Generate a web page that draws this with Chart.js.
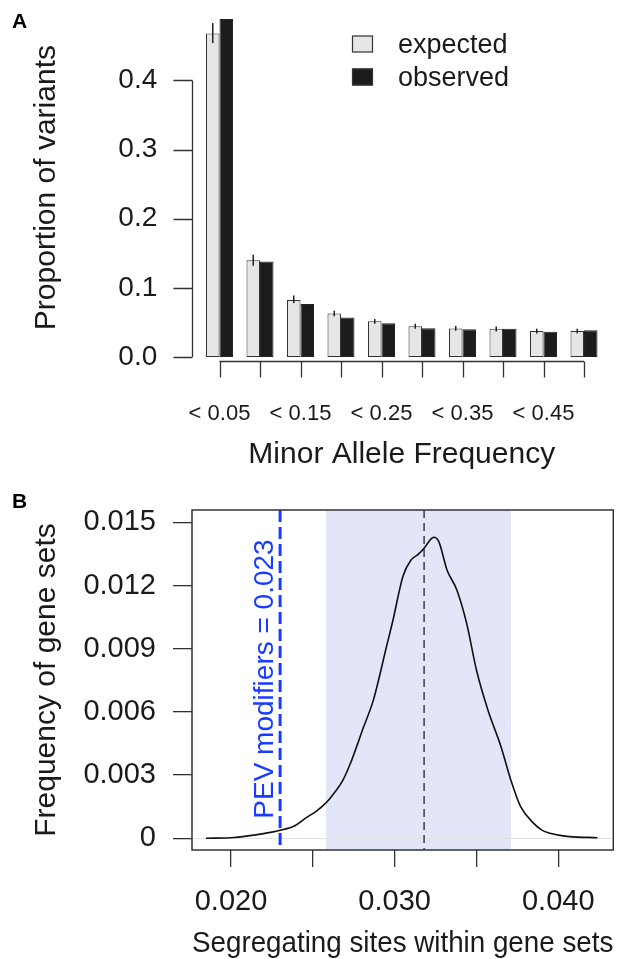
<!DOCTYPE html>
<html>
<head>
<meta charset="utf-8">
<script src="https://cdn.jsdelivr.net/npm/chart.js@4.4.1/dist/chart.umd.min.js"></script>
<style>
  html, body { margin: 0; padding: 0; background: #fff; }
  #wrap { position: relative; width: 643px; height: 959px; }
  canvas { position: absolute; left: 0; }
  #panelA { top: 0; }
  #panelB { top: 480px; }
</style>
</head>
<body>
<div id="wrap">
  <canvas id="panelA" width="643" height="480"></canvas>
  <canvas id="panelB" width="643" height="479"></canvas>
</div>
<script>
// ---- panel A : site frequency spectrum ----
const mafBins = ['< 0.05', '< 0.1', '< 0.15', '< 0.2', '< 0.25', '< 0.3', '< 0.35', '< 0.4', '< 0.45', '< 0.5']
const expected = [0.468, 0.140, 0.0825, 0.063, 0.0517, 0.0444, 0.0413, 0.0408, 0.0375, 0.0375]
const observed = [0.4887, 0.138, 0.0767, 0.057, 0.0488, 0.0415, 0.040, 0.041, 0.0366, 0.0386]
const expectedLow = [0.454, 0.132, 0.078, 0.059, 0.048, 0.041, 0.038, 0.037, 0.034, 0.034]
const expectedHigh = [0.483, 0.148, 0.089, 0.067, 0.055, 0.048, 0.045, 0.044, 0.041, 0.041]
const propTicks = [0, 0.1, 0.2, 0.3, 0.4]

// ---- panel B : segregating sites density ----
const segSites = [0.01847, 0.0202, 0.0214, 0.0224, 0.0230, 0.0239, 0.0246, 0.0252, 0.0258, 0.0264,
  0.0268, 0.0273, 0.0281, 0.0287, 0.0295, 0.0299, 0.0305, 0.0310, 0.0314, 0.0318,
  0.0322, 0.0324, 0.0327, 0.0332, 0.0338, 0.0344, 0.0350, 0.0357, 0.0365, 0.0371,
  0.0377, 0.0385, 0.0390, 0.0395, 0.0401, 0.0407, 0.0424]
const geneSetFreq = [0.0, 0.00004, 0.00015, 0.00028, 0.00038, 0.00060, 0.00098, 0.00128, 0.00168, 0.00225,
  0.00270, 0.00356, 0.00528, 0.00656, 0.00909, 0.01036, 0.01242, 0.01321, 0.01345, 0.01377,
  0.01419, 0.01429, 0.01408, 0.01274, 0.01179, 0.01021, 0.00799, 0.00609, 0.00435, 0.00277,
  0.00150, 0.00071, 0.00039, 0.00024, 0.00014, 0.00008, 0.00003]
const freqTicks = [0, 0.003, 0.006, 0.009, 0.012, 0.015]
const segTicks = [0.020, 0.025, 0.030, 0.035, 0.040]
const shadeRange = [0.02581, 0.03711]
const meanSites = 0.0318
const pevSites = 0.023
const pevLabel = 'PEV modifiers = 0.023'

const FONT = "'Liberation Sans', Arial, Helvetica, sans-serif"
const ink = '#1a1a1a'
const axisCol = '#333333'
const lightFill = '#e6e6e6'
const darkFill = '#1c1c1c'
const blue = '#1a3cff'
const lavender = 'rgb(227, 230, 249)'

Chart.defaults.font.family = FONT
Chart.defaults.color = ink

function panelLetter(ctx, letter, baseline) {
    ctx.save()
    ctx.fillStyle = '#000'
    ctx.font = 'bold 21px ' + FONT
    ctx.textBaseline = 'alphabetic'
    ctx.fillText(letter, 12, baseline)
    ctx.restore()
}

// keep label overhang from pushing the plot area around
function noPad(s) {
    s.paddingTop = 0
    s.paddingBottom = 0
    s.paddingLeft = 0
    s.paddingRight = 0
}

// R style axes, error bars and legend for panel A
const rAxesA = {
    id: 'rAxesA',
    afterDatasetsDraw(chart) {
        const ctx = chart.ctx
        const y = chart.scales.y
        const meta = chart.getDatasetMeta(0)
        ctx.save()
        ctx.strokeStyle = '#222'
        ctx.lineWidth = 1.5
        meta.data.forEach((bar, i) => {
            ctx.beginPath()
            ctx.moveTo(bar.x, y.getPixelForValue(expectedLow[i]))
            ctx.lineTo(bar.x, y.getPixelForValue(expectedHigh[i]))
            ctx.stroke()
        })
        ctx.restore()
    },
    afterDraw(chart) {
        const ctx = chart.ctx
        const x = chart.scales.x, y = chart.scales.y
        const area = chart.chartArea
        ctx.save()
        ctx.strokeStyle = axisCol
        ctx.lineWidth = 1.3
        // y axis
        const ax = Math.round(area.left - 7.25) + 0.5
        ctx.beginPath()
        ctx.moveTo(ax, y.getPixelForValue(propTicks[0]))
        ctx.lineTo(ax, y.getPixelForValue(propTicks[propTicks.length - 1]))
        propTicks.forEach(v => {
            const py = Math.round(y.getPixelForValue(v)) + 0.5
            ctx.moveTo(ax - 19, py)
            ctx.lineTo(ax, py)
        })
        ctx.stroke()
        // x axis
        const ay = Math.round(area.bottom + 3.7) + 0.5
        ctx.beginPath()
        ctx.moveTo(x.getPixelForValue(0), ay)
        ctx.lineTo(x.getPixelForValue(mafBins.length - 1), ay)
        mafBins.forEach((b, i) => {
            const px = Math.round(x.getPixelForValue(i)) + 0.5
            ctx.moveTo(px, ay)
            ctx.lineTo(px, ay + 16)
        })
        ctx.stroke()

        // legend
        const ds = chart.data.datasets
        ctx.font = '27px ' + FONT
        ctx.textBaseline = 'alphabetic'
        ds.forEach((d, i) => {
            const top = 35.5 + i * 33
            ctx.fillStyle = d.backgroundColor
            ctx.fillRect(352, top, 21, 17)
            ctx.strokeStyle = axisCol
            ctx.lineWidth = 1.2
            ctx.strokeRect(352.5, top + 0.5, 20, 16)
            ctx.fillStyle = ink
            ctx.fillText(d.label, 398, top + 17)
        })
        ctx.restore()
        panelLetter(ctx, 'A', 28)
    }
}

const chartA = new Chart(document.getElementById('panelA').getContext('2d'), {
    type: 'bar',
    data: {
        labels: mafBins,
        datasets: [
            {
                label: 'expected',
                data: expected,
                backgroundColor: lightFill,
                borderColor: axisCol,
                borderWidth: 1,
                borderSkipped: false,
                categoryPercentage: 0.6667,
                barPercentage: 1.0
            },
            {
                label: 'observed',
                data: observed,
                backgroundColor: darkFill,
                borderColor: '#222',
                borderWidth: 1,
                borderSkipped: false,
                categoryPercentage: 0.6667,
                barPercentage: 1.0
            }
        ]
    },
    options: {
        responsive: false,
        animation: false,
        devicePixelRatio: 1,
        layout: { padding: { left: 0, right: 38.75, top: 18.2, bottom: 0 } },
        scales: {
            x: {
                type: 'category',
                grid: { display: false, drawTicks: false },
                border: { display: false },
                ticks: {
                    autoSkip: false,
                    maxRotation: 0,
                    padding: 44,
                    font: { size: 22 },
                    callback: (v, i) => i % 2 === 0 ? mafBins[i] : ''
                },
                title: {
                    display: true,
                    text: 'Minor Allele Frequency',
                    font: { size: 30, lineHeight: 1 },
                    padding: { top: 0, bottom: 10 }
                },
                afterFit: s => { s.height = 123; noPad(s) }
            },
            y: {
                min: 0,
                max: 0.49,
                grid: { display: false, drawTicks: false },
                border: { display: false },
                afterBuildTicks: s => { s.ticks = propTicks.map(v => ({ value: v })) },
                ticks: {
                    padding: 42,
                    font: { size: 28 },
                    callback: v => v.toFixed(1)
                },
                title: {
                    display: true,
                    text: 'Proportion of variants',
                    font: { size: 30, lineHeight: 1 },
                    padding: { top: 32, bottom: 0 }
                },
                afterFit: s => { s.width = 199.25; noPad(s) }
            }
        },
        plugins: {
            legend: { display: false },
            tooltip: { enabled: false }
        }
    },
    plugins: [rAxesA]
})

// shading, reference lines, box and label for panel B
const decorB = {
    id: 'decorB',
    beforeDatasetsDraw(chart) {
        const ctx = chart.ctx
        const x = chart.scales.x, y = chart.scales.y
        const area = chart.chartArea
        ctx.save()
        const x0 = x.getPixelForValue(shadeRange[0]), x1 = x.getPixelForValue(shadeRange[1])
        ctx.fillStyle = lavender
        ctx.fillRect(x0, area.top, x1 - x0, area.bottom - area.top)
        // faint zero line
        ctx.strokeStyle = '#e2e2e2'
        ctx.lineWidth = 1
        const y0 = Math.round(y.getPixelForValue(0)) + 0.5
        ctx.beginPath()
        ctx.moveTo(area.left, y0)
        ctx.lineTo(area.right, y0)
        ctx.stroke()
        // mean line
        const xm = x.getPixelForValue(meanSites)
        ctx.strokeStyle = '#333'
        ctx.lineWidth = 1.4
        ctx.setLineDash([8, 5])
        ctx.beginPath()
        ctx.moveTo(xm, area.top)
        ctx.lineTo(xm, area.bottom)
        ctx.stroke()
        ctx.restore()
    },
    afterDatasetsDraw(chart) {
        const ctx = chart.ctx
        const x = chart.scales.x
        const area = chart.chartArea
        ctx.save()
        const xp = x.getPixelForValue(pevSites)
        ctx.strokeStyle = blue
        ctx.lineWidth = 3
        ctx.setLineDash([12, 5])
        ctx.beginPath()
        ctx.moveTo(xp, area.top)
        ctx.lineTo(xp, area.bottom)
        ctx.stroke()
        ctx.setLineDash([])
        // label
        ctx.translate(xp - 7.3, 199)
        ctx.rotate(-Math.PI / 2)
        ctx.fillStyle = blue
        ctx.font = '28px ' + FONT
        ctx.textAlign = 'center'
        ctx.textBaseline = 'alphabetic'
        ctx.fillText(pevLabel, 0, 0)
        ctx.restore()
    },
    afterDraw(chart) {
        const ctx = chart.ctx
        const area = chart.chartArea
        ctx.save()
        ctx.strokeStyle = axisCol
        ctx.lineWidth = 1.5
        ctx.strokeRect(area.left, area.top, area.right - area.left, area.bottom - area.top)
        ctx.restore()
        panelLetter(ctx, 'B', 28)
    }
}

const chartB = new Chart(document.getElementById('panelB').getContext('2d'), {
    type: 'line',
    data: {
        datasets: [{
            label: 'density',
            data: segSites.map((s, i) => ({ x: s, y: geneSetFreq[i] })),
            borderColor: '#111',
            borderWidth: 1.6,
            pointRadius: 0,
            fill: false,
            cubicInterpolationMode: 'monotone'
        }]
    },
    options: {
        responsive: false,
        animation: false,
        devicePixelRatio: 1,
        layout: { padding: { left: 0, right: 29.7, top: 30, bottom: 0 } },
        scales: {
            x: {
                type: 'linear',
                min: 0.017615,
                max: 0.043364,
                grid: { display: true, drawOnChartArea: false, drawTicks: true, tickLength: 17, color: axisCol, lineWidth: 1.3 },
                border: { display: false },
                afterBuildTicks: s => { s.ticks = segTicks.map(v => ({ value: v })) },
                ticks: {
                    padding: 17.3,
                    font: { size: 29 },
                    callback: (v, i) => i % 2 === 0 ? v.toFixed(3) : ''
                },
                title: {
                    display: true,
                    text: 'Segregating sites within gene sets',
                    font: { size: 30, lineHeight: 1 },
                    padding: { top: 0, bottom: 0 }
                },
                afterFit: s => { s.height = 109; noPad(s) }
            },
            y: {
                min: -0.000555,
                max: 0.015584,
                grid: { display: true, drawOnChartArea: false, drawTicks: true, tickLength: 19, color: axisCol, lineWidth: 1.3 },
                border: { display: false },
                afterBuildTicks: s => { s.ticks = freqTicks.map(v => ({ value: v })) },
                ticks: {
                    padding: 17,
                    font: { size: 29 },
                    callback: v => v === 0 ? '0' : v.toFixed(3)
                },
                title: {
                    display: true,
                    text: 'Frequency of gene sets',
                    font: { size: 30, lineHeight: 1 },
                    padding: { top: 32, bottom: 0 }
                },
                afterFit: s => { s.width = 192; noPad(s) }
            }
        },
        plugins: {
            legend: { display: false },
            tooltip: { enabled: false }
        }
    },
    plugins: [decorB]
})
</script>
</body>
</html>
